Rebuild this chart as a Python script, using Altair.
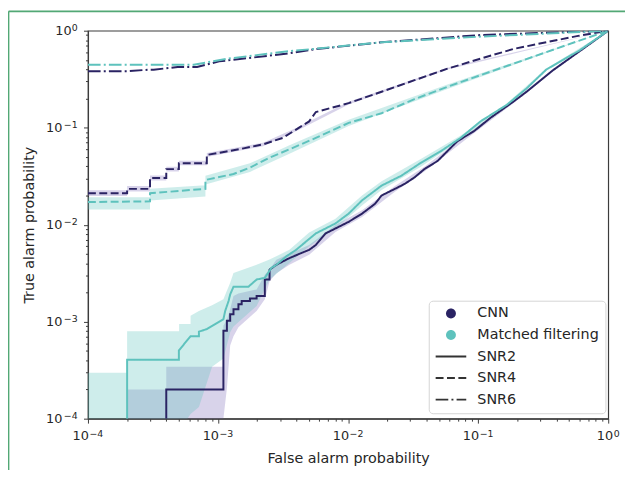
import altair as alt
import pandas as pd

# ---------------- data ----------------
methods = ["CNN", "Matched filtering"]
snrs = ["SNR2", "SNR4", "SNR6"]
legend_keys = methods + snrs

# ROC curves: false alarm probability (fa) vs true alarm probability (ta)
cnn_snr2_fa = [4e-4, 4e-4, 1.10e-3, 1.10e-3, 1.17e-3, 1.17e-3, 1.24e-3, 1.24e-3, 1.315e-3, 1.315e-3,
               1.435e-3, 1.435e-3, 1.52e-3, 1.52e-3, 1.76e-3, 1.76e-3, 1.98e-3, 1.98e-3, 2.29e-3, 2.29e-3,
               2.49e-3, 2.49e-3, 2.81e-3, 3.15e-3, 3.54e-3, 4.22e-3, 5.02e-3, 5.65e-3, 6.71e-3, 8.0e-3,
               1.01e-2, 1.28e-2, 1.61e-2, 1.81e-2, 2.29e-2, 2.72e-2, 3.24e-2, 3.86e-2, 4.88e-2, 5.81e-2,
               6.92e-2, 9.27e-2, 0.124, 0.187, 0.236, 0.376, 0.635, 1.0]
cnn_snr2_ta = [1e-4, 2e-4, 2e-4, 8.07e-4, 8.07e-4, 1.02e-3, 1.02e-3, 1.19e-3, 1.19e-3, 1.34e-3,
               1.34e-3, 1.51e-3, 1.51e-3, 1.63e-3, 1.63e-3, 1.73e-3, 1.73e-3, 1.84e-3, 1.84e-3, 2.72e-3,
               2.72e-3, 3.44e-3, 3.86e-3, 4.18e-3, 4.52e-3, 5.0e-3, 5.5e-3, 6.18e-3, 8.13e-3, 9.14e-3,
               1.07e-2, 1.30e-2, 1.64e-2, 2.0e-2, 2.34e-2, 2.63e-2, 3.07e-2, 3.74e-2, 4.54e-2, 5.74e-2,
               7.26e-2, 9.18e-2, 0.126, 0.186, 0.235, 0.391, 0.646, 1.0]

mf_snr2_fa = [2e-4, 2e-4, 5.0e-4, 5.0e-4, 6.15e-4, 7.13e-4, 7.13e-4, 8.24e-4, 1.10e-3, 1.135e-3,
              1.205e-3, 1.24e-3, 1.315e-3, 1.71e-3, 1.98e-3, 2.29e-3, 2.57e-3, 2.81e-3, 3.34e-3, 3.98e-3,
              5.65e-3, 8.0e-3, 1.01e-2, 1.28e-2, 1.81e-2, 2.57e-2, 3.65e-2, 5.18e-2, 7.34e-2, 0.104,
              0.166, 0.236, 0.334, 0.600, 1.0]
mf_snr2_ta = [1e-4, 4.06e-4, 4.06e-4, 5.05e-4, 7.08e-4, 7.08e-4, 7.89e-4, 8.41e-4, 1.06e-3, 1.29e-3,
              1.63e-3, 1.91e-3, 2.29e-3, 2.29e-3, 2.72e-3, 2.83e-3, 3.58e-3, 3.86e-3, 4.70e-3, 5.5e-3,
              8.13e-3, 1.03e-2, 1.30e-2, 1.78e-2, 2.53e-2, 3.20e-2, 4.37e-2, 5.74e-2, 7.85e-2, 0.116,
              0.172, 0.254, 0.398, 0.625, 1.0]

cnn_snr4_fa = [1e-4, 2e-4, 2e-4, 3e-4, 3e-4, 4e-4, 4e-4, 5e-4, 5e-4, 8.2e-4, 8.2e-4, 1.135e-3, 1.57e-3,
               2.22e-3, 3.15e-3, 3.98e-3, 5.02e-3, 5.65e-3, 1.01e-2, 1.81e-2, 3.24e-2, 5.81e-2, 0.104,
               0.187, 0.334, 0.600, 1.0]
cnn_snr4_ta = [2.11e-2, 2.11e-2, 2.34e-2, 2.34e-2, 3.03e-2, 3.03e-2, 3.74e-2, 3.74e-2, 4.31e-2, 4.31e-2,
               5.24e-2, 5.65e-2, 6.12e-2, 6.73e-2, 7.85e-2, 9.57e-2, 0.116, 0.145, 0.179, 0.235, 0.309,
               0.406, 0.514, 0.649, 0.760, 0.889, 1.0]

mf_snr4_fa = [1e-4, 3e-4, 3e-4, 8e-4, 8e-4, 1.315e-3, 1.76e-3, 2.49e-3, 3.54e-3, 5.65e-3, 1.01e-2,
              1.81e-2, 3.24e-2, 5.81e-2, 0.104, 0.187, 0.334, 0.600, 1.0]
mf_snr4_ta = [1.71e-2, 1.74e-2, 2.11e-2, 2.34e-2, 2.89e-2, 3.33e-2, 3.88e-2, 4.91e-2, 5.98e-2, 7.85e-2,
              0.112, 0.141, 0.197, 0.264, 0.348, 0.457, 0.601, 0.791, 1.0]

cnn_snr6_fa = [1e-4, 2e-4, 2.9e-4, 3.2e-4, 4.9e-4, 6.9e-4, 1.02e-3, 3.31e-3, 5.65e-3, 1.81e-2, 0.104, 1.0]
cnn_snr6_ta = [0.382, 0.382, 0.396, 0.396, 0.423, 0.423, 0.483, 0.578, 0.646, 0.760, 0.902, 1.0]

mf_snr6_fa = [1e-4, 6.5e-4, 1.17e-3, 3.34e-3, 5.65e-3, 1.81e-2, 0.104, 1.0]
mf_snr6_ta = [0.446, 0.446, 0.513, 0.611, 0.652, 0.760, 0.869, 1.0]

# confidence bands (fa, lower, upper)
cnn_snr2_band_fa = [2e-4, 4e-4, 4e-4, 1.10e-3, 1.10e-3, 1.17e-3, 1.24e-3, 1.315e-3, 1.435e-3, 1.98e-3,
                    2.29e-3, 2.49e-3, 2.81e-3, 3.54e-3, 5.02e-3, 8.0e-3, 1.28e-2, 2.29e-2, 3.86e-2,
                    9.27e-2, 0.187, 0.376, 1.0]
cnn_snr2_band_lo = [1e-4, 1e-4, 1e-4, 1e-4, 1e-4, 2.06e-4, 5.68e-4, 7.08e-4, 8.75e-4, 1.29e-3,
                    1.70e-3, 2.61e-3, 3.16e-3, 3.86e-3, 4.89e-3, 8.43e-3, 1.20e-2, 2.18e-2, 3.53e-2,
                    8.77e-2, 0.179, 0.380, 1.0]
cnn_snr2_band_hi = [2e-4, 2e-4, 3.42e-4, 3.42e-4, 9.08e-4, 1.05e-3, 1.34e-3, 1.84e-3, 1.95e-3, 2.15e-3,
                    3.05e-3, 3.47e-3, 4.35e-3, 5.01e-3, 6.17e-3, 9.91e-3, 1.41e-2, 2.51e-2, 3.96e-2,
                    9.62e-2, 0.192, 0.398, 1.0]

mf_snr2_band_fa = [1e-4, 2e-4, 2e-4, 5.02e-4, 5.02e-4, 5.81e-4, 6.15e-4, 6.15e-4, 7.13e-4, 9.0e-4,
                   1.10e-3, 1.24e-3, 1.315e-3, 1.98e-3, 2.49e-3, 3.54e-3, 5.02e-3, 8.0e-3, 1.28e-2,
                   1.81e-2, 3.65e-2, 7.34e-2, 0.166, 0.334, 1.0]
mf_snr2_band_lo = [1e-4, 1e-4, 1e-4, 1e-4, 1e-4, 1e-4, 1.12e-4, 1.12e-4, 1.32e-4, 3.42e-4,
                   4.16e-4, 7.78e-4, 8.91e-4, 1.45e-3, 2.72e-3, 4.02e-3, 6.0e-3, 9.16e-3, 1.58e-2,
                   2.28e-2, 3.98e-2, 7.41e-2, 0.166, 0.385, 1.0]
mf_snr2_band_hi = [2.97e-4, 2.97e-4, 7.96e-4, 7.96e-4, 9.46e-4, 9.46e-4, 9.46e-4, 1.15e-3, 1.29e-3, 1.48e-3,
                   1.70e-3, 2.52e-3, 3.18e-3, 3.86e-3, 4.37e-3, 5.5e-3, 8.3e-3, 1.15e-2, 2.0e-2,
                   2.81e-2, 4.79e-2, 8.32e-2, 0.178, 0.407, 1.0]

cnn_snr4_band_fa = [1e-4, 2e-4, 2e-4, 3e-4, 3e-4, 4e-4, 4e-4, 5e-4, 5e-4, 8.2e-4, 8.2e-4, 2.22e-3,
                    3.98e-3, 1.01e-2, 5.81e-2, 1.0]
cnn_snr4_band_lo = [1.97e-2, 1.97e-2, 2.2e-2, 2.2e-2, 2.85e-2, 2.85e-2, 3.53e-2, 3.53e-2, 4.1e-2, 4.1e-2,
                    5.0e-2, 6.45e-2, 9.2e-2, 0.173, 0.397, 1.0]
cnn_snr4_band_hi = [2.26e-2, 2.26e-2, 2.5e-2, 2.5e-2, 3.22e-2, 3.22e-2, 3.96e-2, 3.96e-2, 4.55e-2, 4.55e-2,
                    5.5e-2, 7.0e-2, 9.95e-2, 0.185, 0.415, 1.0]

mf_snr4_band_fa = [1e-4, 3e-4, 3e-4, 8e-4, 8e-4, 1.76e-3, 3.54e-3, 1.01e-2, 5.81e-2, 0.334, 1.0]
mf_snr4_band_lo = [1.43e-2, 1.43e-2, 1.78e-2, 1.95e-2, 2.6e-2, 3.5e-2, 5.4e-2, 0.104, 0.250, 0.59, 1.0]
mf_snr4_band_hi = [1.92e-2, 1.92e-2, 2.34e-2, 2.55e-2, 3.2e-2, 4.3e-2, 6.6e-2, 0.121, 0.279, 0.61, 1.0]

# axis ticks: labels are "10" with a superscript exponent
major_ticks = [1e-4, 1e-3, 1e-2, 1e-1, 1.0]
tick_base = "10"
tick_exponents = ["−4", "−3", "−2", "−1", "0"]
minor_ticks = [2e-4, 3e-4, 4e-4, 5e-4, 6e-4, 7e-4, 8e-4, 9e-4,
               2e-3, 3e-3, 4e-3, 5e-3, 6e-3, 7e-3, 8e-3, 9e-3,
               2e-2, 3e-2, 4e-2, 5e-2, 6e-2, 7e-2, 8e-2, 9e-2,
               0.2, 0.3, 0.4, 0.5, 0.6, 0.7, 0.8, 0.9]

# ---------------- styling ----------------
NAVY = "#2a2363"
TEAL = "#5ec2bd"
LAVENDER = "#7f6cb8"
DARK = "#333333"
AX = "#3c3c3c"
TXT = "#262626"
GREEN = "#52a875"
FONT = "DejaVu Sans"
DASHES = [[1, 0], [8, 3.5], [12.8, 3.2, 2, 3.2]]

# ---------------- tables ----------------
curves = [
    ("CNN", "SNR2", cnn_snr2_fa, cnn_snr2_ta), ("Matched filtering", "SNR2", mf_snr2_fa, mf_snr2_ta),
    ("CNN", "SNR4", cnn_snr4_fa, cnn_snr4_ta), ("Matched filtering", "SNR4", mf_snr4_fa, mf_snr4_ta),
    ("CNN", "SNR6", cnn_snr6_fa, cnn_snr6_ta), ("Matched filtering", "SNR6", mf_snr6_fa, mf_snr6_ta),
]
line_rows = []
for m, s, fa, ta in curves:
    for i, (f, t) in enumerate(zip(fa, ta)):
        line_rows.append(dict(fa=f, ta=t, method=m, snr=s, series=f"{m} {s}", idx=i))
lines_df = pd.DataFrame(line_rows)

bands = [
    (LAVENDER, cnn_snr2_band_fa, cnn_snr2_band_lo, cnn_snr2_band_hi),
    (TEAL, mf_snr2_band_fa, mf_snr2_band_lo, mf_snr2_band_hi),
    (LAVENDER, cnn_snr4_band_fa, cnn_snr4_band_lo, cnn_snr4_band_hi),
    (TEAL, mf_snr4_band_fa, mf_snr4_band_lo, mf_snr4_band_hi),
]

legend_df = pd.DataFrame({"key": legend_keys})
dummy_df = pd.DataFrame({"k": [0]})

exp_expr = "".join(
    f"datum.value < {v * 3:g} ? '{e}' : " for v, e in zip(major_ticks[:-1], tick_exponents[:-1])
) + f"'{tick_exponents[-1]}'"
IS_TOP = "datum.value >= 0.5"

xscale = alt.Scale(type="log", domain=[1e-4, 1.0], nice=False)
yscale = alt.Scale(type="log", domain=[1e-4, 1.0], nice=False)

title_style = dict(titleFont=FONT, titleFontSize=14.5, titleFontWeight="normal", titleColor=TXT,
                   titleBaseline="alphabetic")
label_style = dict(labelFont=FONT, labelColor=TXT, labelFlush=False, labelOverlap=False)

# main axes: domain, major ticks, the "10" part of the labels and the titles
x_major_axis = alt.Axis(
    orient="bottom", values=major_ticks, labelExpr=f"'{tick_base}'", grid=False,
    tickSize=4.5, tickColor=AX, tickWidth=1, domainColor=AX, domainWidth=1.2,
    labelFontSize=13, labelAlign="right", labelPadding=7,
    labelOffset={"condition": {"test": IS_TOP, "value": 4.5}, "value": 0.5},
    title="False alarm probability", titleY=44, **title_style, **label_style)
y_major_axis = alt.Axis(
    orient="left", values=major_ticks, labelExpr=f"'{tick_base}'", grid=False,
    tickSize=4.5, tickColor=AX, tickWidth=1, domainColor=AX, domainWidth=1.2,
    labelFontSize=13, labelAlign="right", labelBaseline="middle",
    labelPadding={"condition": {"test": IS_TOP, "value": 12.5}, "value": 22},
    title="True alarm probability", titleX=-55, **title_style, **label_style)

# exponent axes (superscripts)
x_exp_axis = alt.Axis(
    orient="bottom", values=major_ticks, labelExpr=exp_expr, grid=False, domain=False,
    tickSize=4.5, tickColor="transparent", labelFontSize=9.5, labelAlign="left", labelPadding=5.4,
    labelOffset={"condition": {"test": IS_TOP, "value": 5}, "value": 1}, title=None, **label_style)
y_exp_axis = alt.Axis(
    orient="left", values=major_ticks, labelExpr=exp_expr, grid=False, domain=False,
    tickSize=4.5, tickColor="transparent", labelFontSize=9.5, labelAlign="right",
    labelBaseline="middle", labelPadding=6.5, labelOffset=-3.5, title=None, **label_style)

minor_common = dict(grid=False, labels=False, domain=False, tickSize=2.5, tickColor=AX, tickWidth=1, title=None)
x_minor_axis = alt.Axis(orient="bottom", values=minor_ticks, **minor_common)
y_minor_axis = alt.Axis(orient="left", values=minor_ticks, **minor_common)

# bands: rows are kept in array order (stable sort by x), giving vertical steps at repeated x
band_layers = []
for col, fa, lo, hi in bands:
    bdf = pd.DataFrame({"fa": fa, "lo": lo, "hi": hi})
    band_layers.append(alt.Chart(bdf).mark_area(color=col, opacity=0.3, clip=True).encode(
        x=alt.X("fa:Q", scale=xscale, axis=None),
        y=alt.Y("lo:Q", scale=yscale, axis=None),
        y2="hi:Q",
    ))

line_layer = alt.Chart(lines_df).mark_line(strokeWidth=2, clip=True).encode(
    x=alt.X("fa:Q", scale=xscale, axis=x_major_axis),
    y=alt.Y("ta:Q", scale=yscale, axis=y_major_axis),
    stroke=alt.Stroke("method:N", scale=alt.Scale(domain=methods, range=[NAVY, TEAL]), legend=None),
    strokeDash=alt.StrokeDash("snr:N", scale=alt.Scale(domain=snrs, range=DASHES), legend=None),
    detail="series:N",
    order="idx:Q",
)

minor_layer = alt.Chart(lines_df).mark_point(opacity=0, size=1).encode(
    x=alt.X("fa:Q", scale=xscale, axis=x_minor_axis),
    y=alt.Y("ta:Q", scale=yscale, axis=y_minor_axis),
)
exp_layer = alt.Chart(lines_df).mark_point(opacity=0, size=1).encode(
    x=alt.X("fa:Q", scale=xscale, axis=x_exp_axis),
    y=alt.Y("ta:Q", scale=yscale, axis=y_exp_axis),
)

CIRCLE_PATH = "M0.5,0A0.714,0.714,0,1,1,1.928,0A0.714,0.714,0,1,1,0.5,0Z"
LINE_PATH = "M-1,0L3.428,0"
leg = alt.Legend(
    title=None, orient="none", legendX=345.2, legendY=273.5, padding=6,
    fillColor="white", strokeColor="#d4d4d4", cornerRadius=4,
    labelFont=FONT, labelFontSize=14.5, labelColor=TXT, labelOffset=27.2,
    symbolSize=196, symbolStrokeWidth=2, symbolOpacity=1, clipHeight=14, rowPadding=6.8,
)
legend_layer = alt.Chart(legend_df).mark_point(filled=True, opacity=0).encode(
    color=alt.Color("key:N", scale=alt.Scale(domain=legend_keys,
                    range=[NAVY, TEAL, "transparent", "transparent", "transparent"]), legend=leg),
    stroke=alt.Stroke("key:N", scale=alt.Scale(domain=legend_keys,
                      range=["transparent", "transparent", DARK, DARK, DARK]), legend=leg),
    shape=alt.Shape("key:N", scale=alt.Scale(domain=legend_keys,
                    range=[CIRCLE_PATH, CIRCLE_PATH, LINE_PATH, LINE_PATH, LINE_PATH]), legend=leg),
    strokeDash=alt.StrokeDash("key:N", scale=alt.Scale(domain=legend_keys,
                              range=[[1, 0], [1, 0]] + DASHES), legend=leg),
)

# green frame of the original figure crop
frame_v = alt.Chart(dummy_df).mark_rule(color=GREEN, strokeWidth=1.6).encode(
    x=alt.value(-80.4), y=alt.value(-19.6), y2=alt.value(460))
frame_h = alt.Chart(dummy_df).mark_rule(color=GREEN, strokeWidth=1.6).encode(
    x=alt.value(-80.4), x2=alt.value(560), y=alt.value(-19.6))

chart = alt.layer(
    *band_layers, line_layer, minor_layer, exp_layer, legend_layer, frame_v, frame_h
).resolve_scale(
    stroke="independent", strokeDash="independent",
    color="independent", shape="independent",
).resolve_axis(
    x="independent", y="independent"
).properties(
    width=527, height=393,
    autosize=alt.AutoSizeParams(type="none"),
    padding={"left": 81, "top": 20, "right": 17, "bottom": 49},
    background="white",
).configure_view(stroke=AX, strokeWidth=1.2)

chart.save("out.html", embed_options={"renderer": "svg", "actions": False})
